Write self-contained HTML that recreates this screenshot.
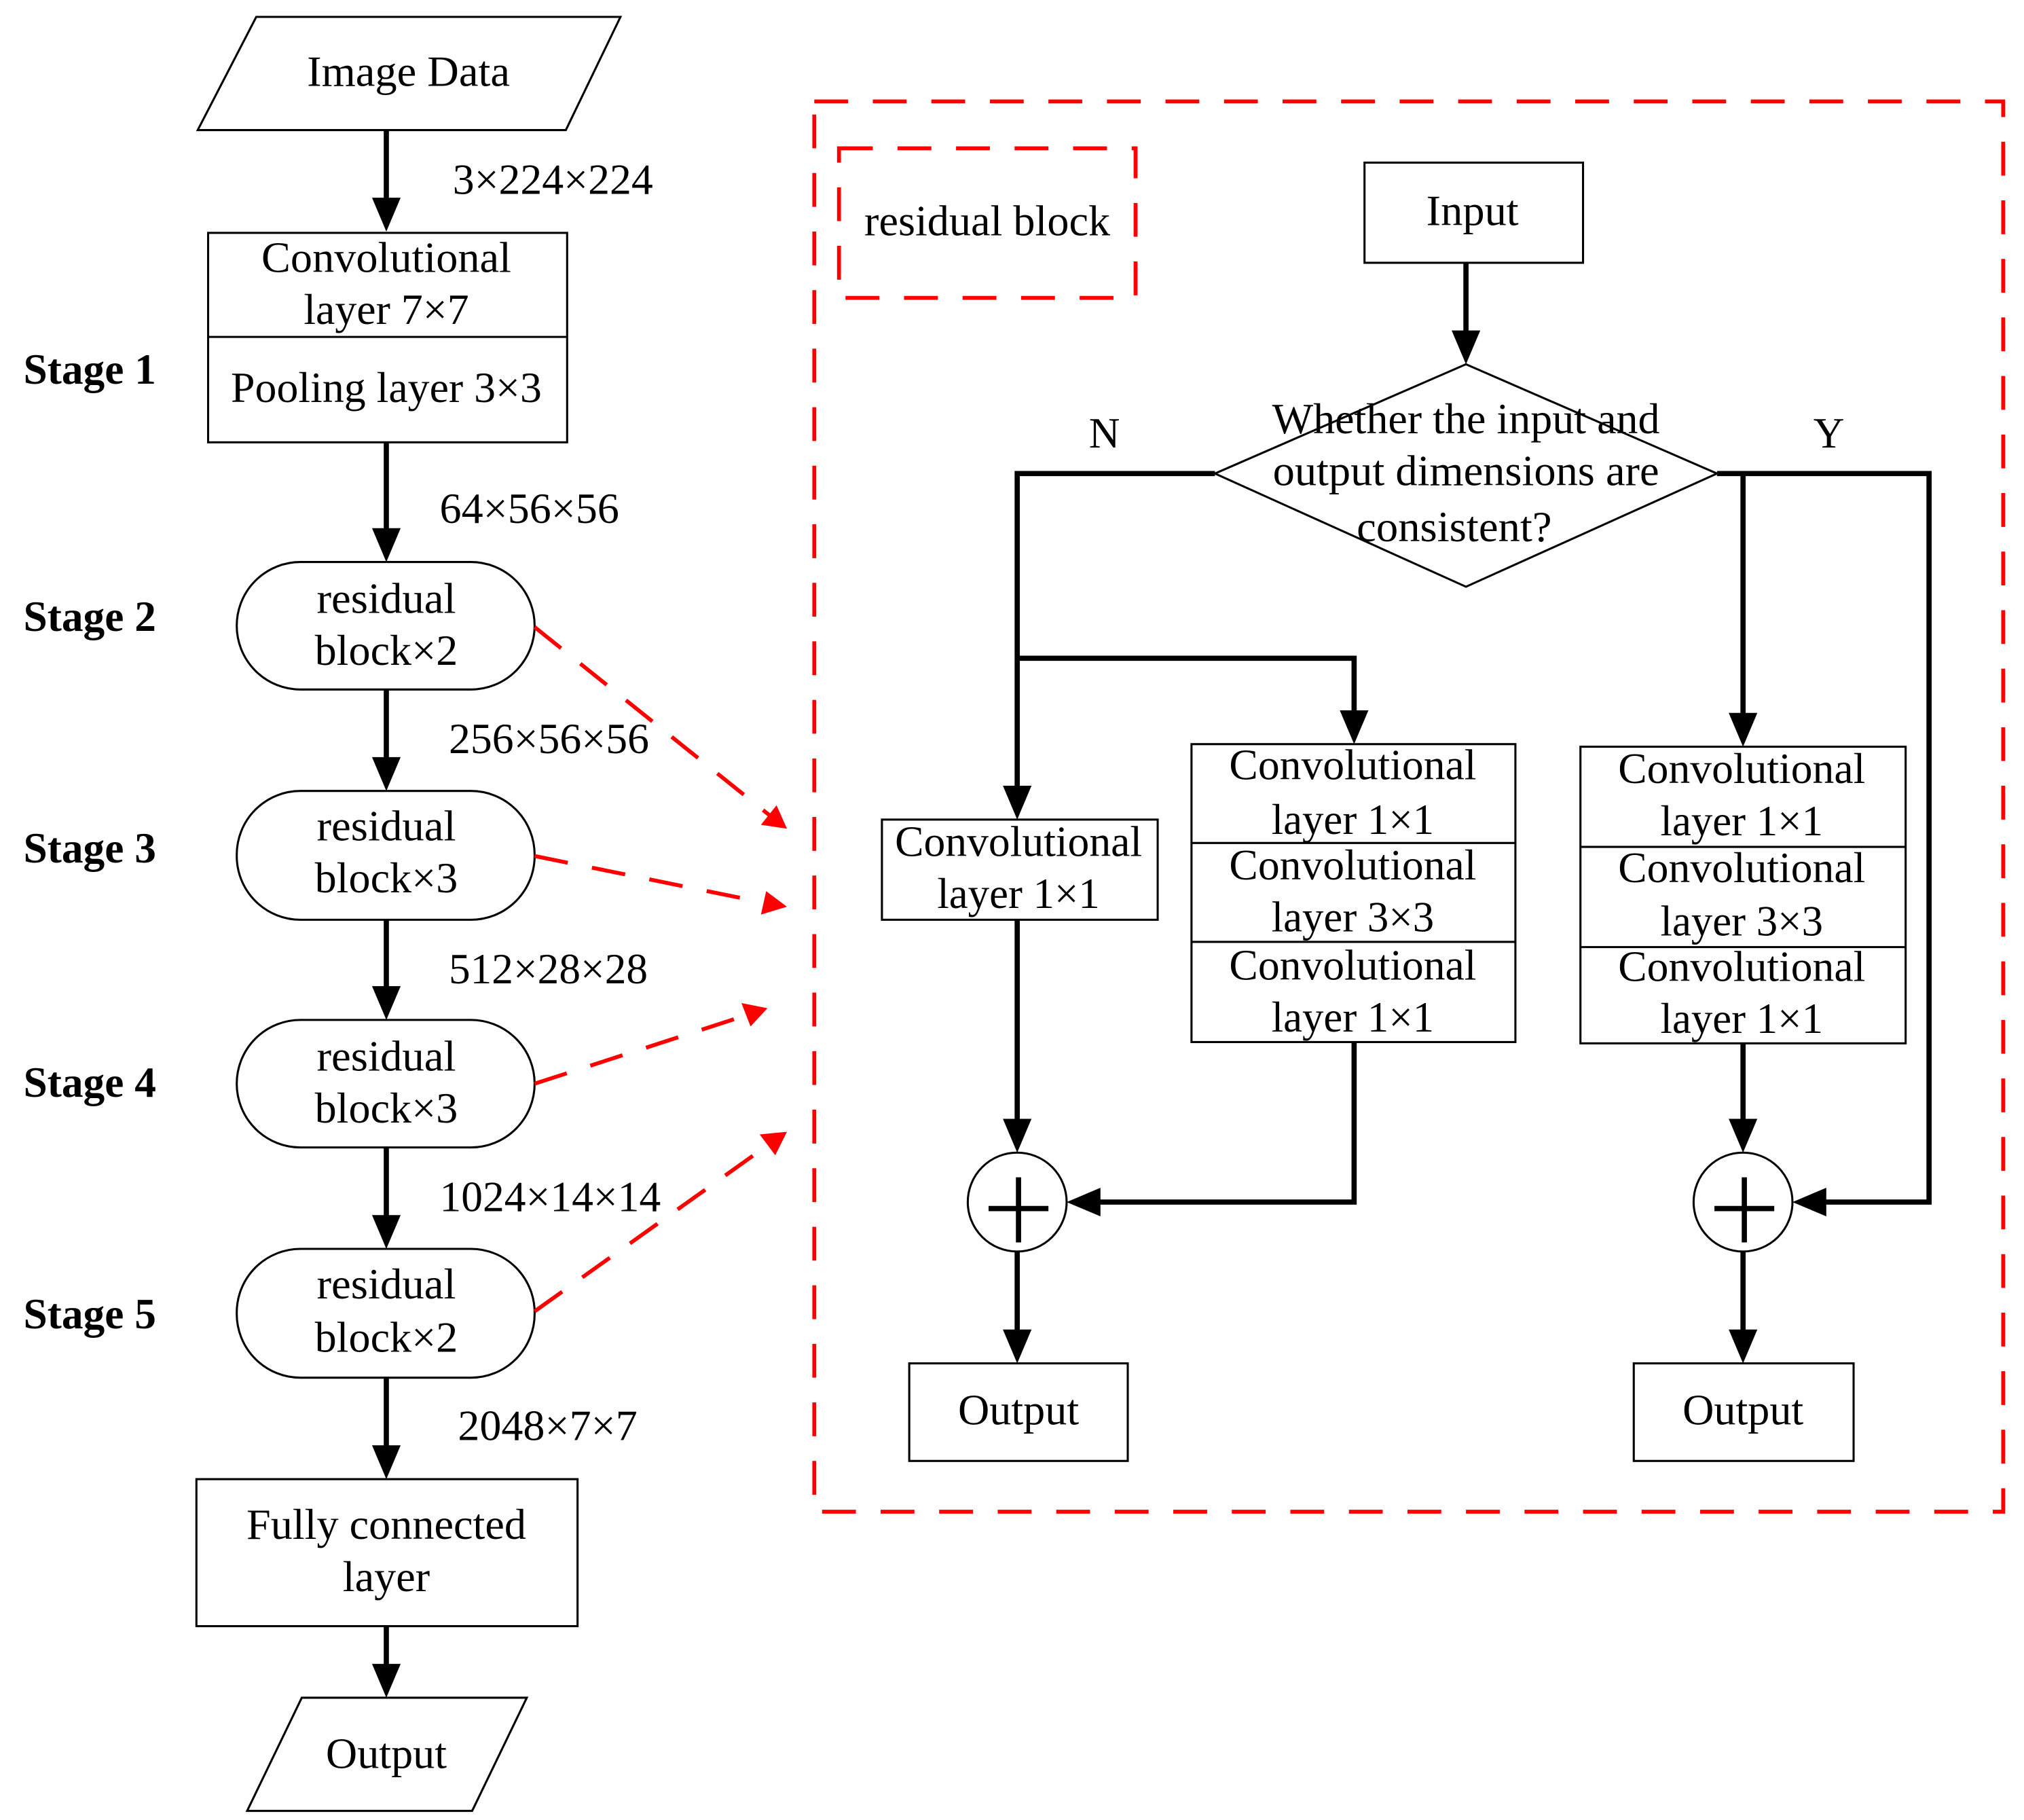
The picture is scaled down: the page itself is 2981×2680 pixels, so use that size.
<!DOCTYPE html>
<html><head><meta charset="utf-8"><style>
html,body{margin:0;padding:0;background:#fff;}
svg{display:block;}
text{font-family:"Liberation Serif",serif;font-size:33px;fill:#000;}
.b{font-weight:bold;}
</style></head><body>
<svg width="2981" height="2680" viewBox="0 0 1556 1399" preserveAspectRatio="none" xmlns="http://www.w3.org/2000/svg">
<defs>
<marker id="a" viewBox="0 0 10 10" refX="10" refY="5" markerWidth="6" markerHeight="6" markerUnits="userSpaceOnUse" orient="auto" style="overflow:visible">
</marker>
</defs>
<g fill="none" stroke="#000" stroke-width="1.6">
<polygon points="152,100 197,13 477,13 435,100"/>
<rect x="160" y="179" width="276" height="161"/>
<line x1="160" y1="259" x2="436" y2="259"/>
<rect x="182" y="432" width="229" height="98" rx="49"/>
<rect x="182" y="608" width="229" height="99" rx="49"/>
<rect x="182" y="784" width="229" height="98" rx="49"/>
<rect x="182" y="960" width="229" height="99" rx="49"/>
<rect x="151" y="1137" width="293" height="113"/>
<polygon points="190,1392 232,1305 405,1305 363,1392"/>
<rect x="1049" y="125" width="168" height="77"/>
<polygon points="1127,280 1320,364 1127,451 934,364"/>
<rect x="678" y="630" width="212" height="77"/>
<rect x="916" y="572" width="249" height="229"/>
<line x1="916" y1="648" x2="1165" y2="648"/><line x1="916" y1="724" x2="1165" y2="724"/>
<rect x="1215" y="574" width="250" height="228"/>
<line x1="1215" y1="651" x2="1465" y2="651"/><line x1="1215" y1="728" x2="1465" y2="728"/>
<circle cx="782" cy="924" r="38"/>
<circle cx="1340" cy="924" r="38"/>
<rect x="699" y="1048" width="168" height="75"/>
<rect x="1256" y="1048" width="169" height="75"/>
</g>
<g fill="none" stroke="#000" stroke-width="4">
<line x1="297" y1="100" x2="297" y2="160"/>
<line x1="297" y1="340" x2="297" y2="414"/>
<line x1="297" y1="530" x2="297" y2="590"/>
<line x1="297" y1="707" x2="297" y2="766"/>
<line x1="297" y1="882" x2="297" y2="942"/>
<line x1="297" y1="1059" x2="297" y2="1119"/>
<line x1="297" y1="1250" x2="297" y2="1287"/>
<line x1="1127" y1="202" x2="1127" y2="262"/>
<polyline points="934,364 782,364 782,612"/>
<polyline points="782,506 1041,506 1041,554"/>
<polyline points="1320,364 1483,364 1483,924 1396,924"/>
<line x1="1340" y1="364" x2="1340" y2="556"/>
<line x1="782" y1="707" x2="782" y2="868"/>
<polyline points="1041,801 1041,924 838,924"/>
<line x1="782" y1="962" x2="782" y2="1030"/>
<line x1="1340" y1="802" x2="1340" y2="868"/>
<line x1="1340" y1="962" x2="1340" y2="1030"/>
<line x1="760" y1="929" x2="806" y2="929"/><line x1="783" y1="905" x2="783" y2="955"/>
<line x1="1318" y1="929" x2="1364" y2="929"/><line x1="1341" y1="905" x2="1341" y2="955"/>
</g>
<g fill="#000">
<polygon points="286,152 308,152 297,178"/>
<polygon points="286,406 308,406 297,432"/>
<polygon points="286,582 308,582 297,608"/>
<polygon points="286,758 308,758 297,784"/>
<polygon points="286,934 308,934 297,960"/>
<polygon points="286,1111 308,1111 297,1137"/>
<polygon points="286,1279 308,1279 297,1305"/>
<polygon points="1116,254 1138,254 1127,280"/>
<polygon points="771,604 793,604 782,630"/>
<polygon points="1030,546 1052,546 1041,572"/>
<polygon points="1329,548 1351,548 1340,574"/>
<polygon points="771,860 793,860 782,886"/>
<polygon points="1329,860 1351,860 1340,886"/>
<polygon points="771,1022 793,1022 782,1048"/>
<polygon points="1329,1022 1351,1022 1340,1048"/>
<polygon points="846,913 846,935 820,924"/>
<polygon points="1404,913 1404,935 1378,924"/>
</g>
<g fill="none" stroke="#f00" stroke-width="3" stroke-dasharray="26 19">
<rect x="626" y="78" width="914" height="1084"/>
<rect x="645" y="114" width="228" height="115"/>
<line x1="411" y1="482" x2="592" y2="627"/>
<line x1="411" y1="658" x2="588" y2="694"/>
<line x1="411" y1="833" x2="575" y2="780"/>
<line x1="411" y1="1008" x2="592" y2="879"/>
</g>
<g fill="#f00">
<polygon points="605,637 585,634 597,619"/>
<polygon points="605,697 585,703 589,685"/>
<polygon points="590,775 577,789 570,771"/>
<polygon points="605,870 596,888 584,872"/>
</g>
<g text-anchor="middle" lengthAdjust="spacingAndGlyphs">
<text x="314" y="66" textLength="156" lengthAdjust="spacingAndGlyphs">Image Data</text>
<text x="297" y="209" textLength="192" lengthAdjust="spacingAndGlyphs">Convolutional</text>
<text x="297" y="249" textLength="127" lengthAdjust="spacingAndGlyphs">layer 7×7</text>
<text x="297" y="309" textLength="239" lengthAdjust="spacingAndGlyphs">Pooling layer 3×3</text>
<text x="297" y="471" textLength="107" lengthAdjust="spacingAndGlyphs">residual</text>
<text x="297" y="511" textLength="110" lengthAdjust="spacingAndGlyphs">block×2</text>
<text x="297" y="646" textLength="107" lengthAdjust="spacingAndGlyphs">residual</text>
<text x="297" y="686" textLength="110" lengthAdjust="spacingAndGlyphs">block×3</text>
<text x="297" y="823" textLength="107" lengthAdjust="spacingAndGlyphs">residual</text>
<text x="297" y="863" textLength="110" lengthAdjust="spacingAndGlyphs">block×3</text>
<text x="297" y="998" textLength="107" lengthAdjust="spacingAndGlyphs">residual</text>
<text x="297" y="1039" textLength="110" lengthAdjust="spacingAndGlyphs">block×2</text>
<text x="297" y="1183" textLength="215" lengthAdjust="spacingAndGlyphs">Fully connected</text>
<text x="297" y="1223" textLength="67" lengthAdjust="spacingAndGlyphs">layer</text>
<text x="297" y="1359" textLength="93" lengthAdjust="spacingAndGlyphs">Output</text>
<text x="759" y="181" textLength="189" lengthAdjust="spacingAndGlyphs">residual block</text>
<text x="1132" y="173" textLength="71" lengthAdjust="spacingAndGlyphs">Input</text>
<text x="1127" y="333" textLength="298" lengthAdjust="spacingAndGlyphs">Whether the input and</text>
<text x="1127" y="373" textLength="297" lengthAdjust="spacingAndGlyphs">output dimensions are</text>
<text x="1118" y="416" textLength="150" lengthAdjust="spacingAndGlyphs">consistent?</text>
<text x="849" y="344">N</text>
<text x="1406" y="344">Y</text>
<text x="783" y="658" textLength="190" lengthAdjust="spacingAndGlyphs">Convolutional</text>
<text x="783" y="698" textLength="125" lengthAdjust="spacingAndGlyphs">layer 1×1</text>
<text x="1040" y="599" textLength="190" lengthAdjust="spacingAndGlyphs">Convolutional</text>
<text x="1040" y="641" textLength="125" lengthAdjust="spacingAndGlyphs">layer 1×1</text>
<text x="1040" y="676" textLength="190" lengthAdjust="spacingAndGlyphs">Convolutional</text>
<text x="1040" y="716" textLength="125" lengthAdjust="spacingAndGlyphs">layer 3×3</text>
<text x="1040" y="753" textLength="190" lengthAdjust="spacingAndGlyphs">Convolutional</text>
<text x="1040" y="793" textLength="125" lengthAdjust="spacingAndGlyphs">layer 1×1</text>
<text x="1339" y="602" textLength="190" lengthAdjust="spacingAndGlyphs">Convolutional</text>
<text x="1339" y="642" textLength="125" lengthAdjust="spacingAndGlyphs">layer 1×1</text>
<text x="1339" y="678" textLength="190" lengthAdjust="spacingAndGlyphs">Convolutional</text>
<text x="1339" y="719" textLength="125" lengthAdjust="spacingAndGlyphs">layer 3×3</text>
<text x="1339" y="754" textLength="190" lengthAdjust="spacingAndGlyphs">Convolutional</text>
<text x="1339" y="794" textLength="125" lengthAdjust="spacingAndGlyphs">layer 1×1</text>
<text x="783" y="1095" textLength="93" lengthAdjust="spacingAndGlyphs">Output</text>
<text x="1340" y="1095" textLength="93" lengthAdjust="spacingAndGlyphs">Output</text>
</g>
<g>
<text x="348" y="149" textLength="154" lengthAdjust="spacingAndGlyphs">3×224×224</text>
<text x="338" y="402" textLength="138" lengthAdjust="spacingAndGlyphs">64×56×56</text>
<text x="345" y="579" textLength="154" lengthAdjust="spacingAndGlyphs">256×56×56</text>
<text x="345" y="756" textLength="153" lengthAdjust="spacingAndGlyphs">512×28×28</text>
<text x="338" y="931" textLength="170" lengthAdjust="spacingAndGlyphs">1024×14×14</text>
<text x="352" y="1107" textLength="138" lengthAdjust="spacingAndGlyphs">2048×7×7</text>
<text class="b" x="18" y="295" textLength="102" lengthAdjust="spacingAndGlyphs">Stage 1</text>
<text class="b" x="18" y="485" textLength="102" lengthAdjust="spacingAndGlyphs">Stage 2</text>
<text class="b" x="18" y="663" textLength="102" lengthAdjust="spacingAndGlyphs">Stage 3</text>
<text class="b" x="18" y="843" textLength="102" lengthAdjust="spacingAndGlyphs">Stage 4</text>
<text class="b" x="18" y="1021" textLength="102" lengthAdjust="spacingAndGlyphs">Stage 5</text>
</g>
</svg>
</body></html>
